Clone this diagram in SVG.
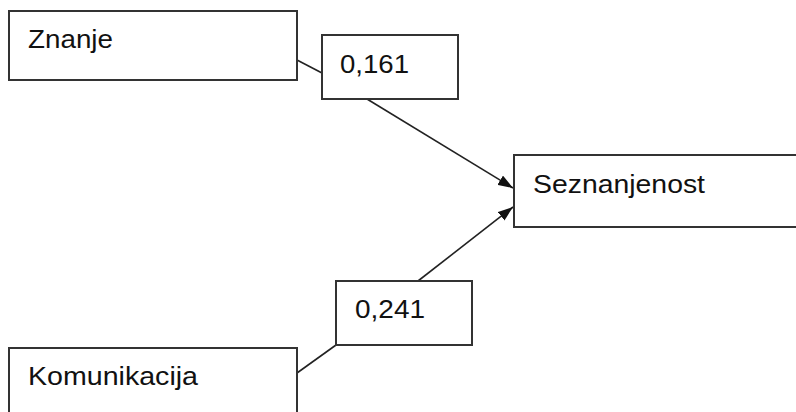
<svg xmlns="http://www.w3.org/2000/svg" width="796" height="412" viewBox="0 0 796 412">
  <style>
    .box { fill: #ffffff; stroke: #333333; stroke-width: 2; }
    .lbl { font-family: "Liberation Sans", Arial, sans-serif; font-size: 25px; fill: #111111; }
    .edge { stroke: #222222; stroke-width: 1.6; fill: none; }
  </style>
  <defs>
    <marker id="arrow" viewBox="0 0 10 10" refX="10" refY="5" markerWidth="9" markerHeight="8" markerUnits="userSpaceOnUse" orient="auto">
      <path d="M0,0 L10,5 L0,10 Z" fill="#111111"/>
    </marker>
    <marker id="head" viewBox="0 0 14 10" refX="14" refY="5" markerWidth="15" markerHeight="11" markerUnits="userSpaceOnUse" orient="auto">
      <path d="M0,0 L14,5 L0,10 Z" fill="#111111"/>
    </marker>
  </defs>
  <rect width="796" height="412" fill="#ffffff"/>

  <g id="connectors">
    <line class="edge" x1="297" y1="60" x2="322" y2="73"/>
    <line class="edge" x1="367" y1="99" x2="513" y2="188" marker-end="url(#head)"/>
    <line class="edge" x1="297" y1="373" x2="336" y2="345"/>
    <line class="edge" x1="418" y1="281" x2="513" y2="207" marker-end="url(#head)"/>
  </g>

  <g id="znanje">
    <rect class="box" x="9" y="11" width="288" height="69"/>
    <text class="lbl" x="28" y="48" textLength="85" lengthAdjust="spacingAndGlyphs">Znanje</text>
  </g>

  <g id="coef-znanje">
    <rect class="box" x="322" y="35" width="136" height="64"/>
    <text class="lbl" x="340" y="73" textLength="69" lengthAdjust="spacingAndGlyphs">0,161</text>
  </g>

  <g id="seznanjenost">
    <rect class="box" x="514" y="155" width="290" height="72"/>
    <text class="lbl" x="533" y="193" textLength="172" lengthAdjust="spacingAndGlyphs">Seznanjenost</text>
  </g>

  <g id="coef-komunikacija">
    <rect class="box" x="336" y="281" width="136" height="64"/>
    <text class="lbl" x="355" y="318" textLength="70" lengthAdjust="spacingAndGlyphs">0,241</text>
  </g>

  <g id="komunikacija">
    <rect class="box" x="9" y="348" width="288" height="80"/>
    <text class="lbl" x="28" y="385" textLength="170" lengthAdjust="spacingAndGlyphs">Komunikacija</text>
  </g>
</svg>
